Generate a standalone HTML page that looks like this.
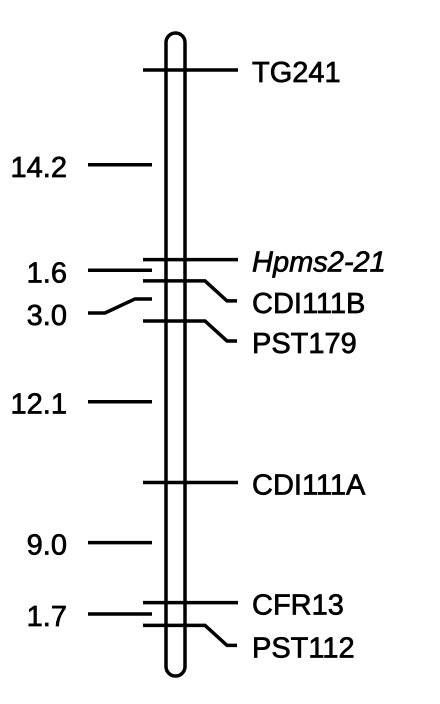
<!DOCTYPE html>
<html><head><meta charset="utf-8"><style>
html,body{margin:0;padding:0;background:#fff;}
svg{display:block;}
text{font-family:"Liberation Sans",Arial,sans-serif;font-size:29px;fill:#000;stroke:#000;stroke-width:0.7px;}
</style></head><body>
<svg id="map" width="440" height="704" viewBox="0 0 440 704">
<rect x="166" y="33" width="19" height="643" rx="9.5" ry="9.5" fill="#fff" stroke="#000" stroke-width="3.5"/>
<g id="marks"></g>
</svg>
<script>
const markerNames = ["TG241","Hpms2-21","CDI111B","PST179","CDI111A","CFR13","PST112"];
const intervals = [14.2, 1.6, 3.0, 12.1, 9.0, 1.7];
const intervalLabels = ["14.2","1.6","3.0","12.1","9.0","1.7"];
const italicMarkers = ["Hpms2-21"];
const shiftedMarkers = ["CDI111B","PST179","PST112"];
const shiftedIntervals = ["3.0"];

const NS = "http://www.w3.org/2000/svg";
const g = document.getElementById("marks");
function yScale(cm){ return 70 + cm*13.35; }
function mk(tag, attrs){
  const e = document.createElementNS(NS, tag);
  for (const k in attrs) e.setAttribute(k, attrs[k]);
  g.appendChild(e);
  return e;
}
const pos = [0];
intervals.forEach((v,i)=>pos.push(pos[i]+v));

markerNames.forEach((name,i)=>{
  const y = yScale(pos[i]);
  const shifted = shiftedMarkers.includes(name);
  const ly = shifted ? y+20 : y;
  const p = mk("path", {d: shifted ? `M143 ${y} H205 L227 ${ly} H237` : `M143 ${y} H238`, fill:"none", stroke:"#000", "stroke-width":3.5});
  
  
  const t = mk("text", {x:252, y:ly+12});
  t.textContent = name;
  if (italicMarkers.includes(name)) t.setAttribute("font-style","italic");
  
  
});

intervals.forEach((v,i)=>{
  const y = (yScale(pos[i]) + yScale(pos[i+1]))/2;
  const lab = intervalLabels[i];
  const shifted = shiftedIntervals.includes(lab);
  const ly = shifted ? y+12 : y;
  const p = mk("path", {d: shifted ? `M88 ${ly} H105 L135 ${y-2} H152` : `M88 ${y} H152`, fill:"none", stroke:"#000", "stroke-width":3.5});
  
  
  const t = mk("text", {x:67, y:ly+12, "text-anchor":"end"});
  t.textContent = lab;
  
  
});
</script>
</body></html>
